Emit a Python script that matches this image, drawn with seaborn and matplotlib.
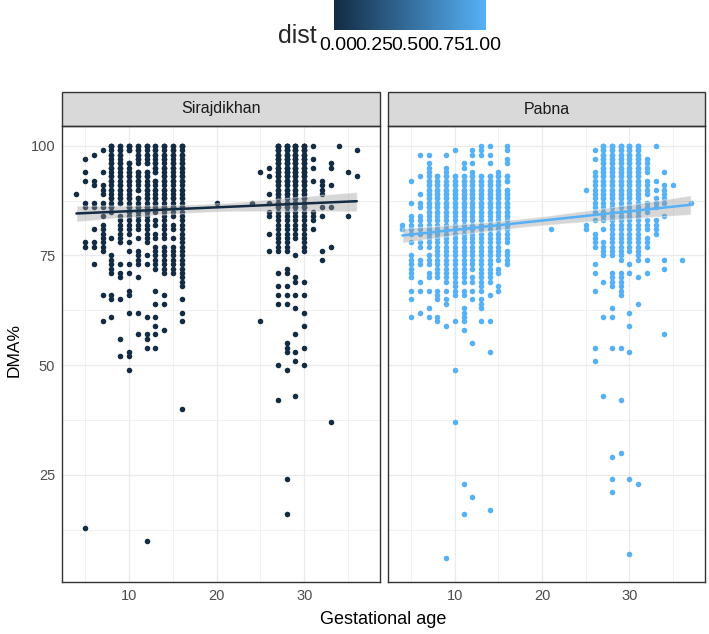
import pandas as pd
import matplotlib
matplotlib.use('Agg')
import matplotlib.pyplot as plt
import seaborn as sns
from matplotlib.colors import LinearSegmentedColormap, Normalize
from matplotlib.cm import ScalarMappable
from matplotlib.patches import Rectangle

# facet titles and the colour scale
sitios = ['Sirajdikhan', 'Pabna']
dist_ticks = [0, 0.25, 0.5, 0.75, 1.0]
dist_labels = ['0.00', '0.25', '0.50', '0.75', '1.00']
x_ticks = [10, 20, 30]
y_ticks = [25, 50, 75, 100]

# Sirajdikhan: gestational age and DMA% values at each age
sir_edad = [4, 5, 6, 7, 8, 9, 10, 11, 12, 13, 14, 15, 16, 20, 24,
            25, 26, 27, 28, 29, 30, 31, 32, 33, 34, 35, 36]
sir_dma = [
    [89],
    [97, 94, 92, 87, 86, 78, 77, 13],
    [98, 92, 91, 87, 86, 81, 78, 77, 73],
    [99, 94, 91, 90, 89, 87, 86, 84, 82, 81, 80, 79, 78, 77, 76, 66, 60],
    [100, 99, 98, 97, 96, 95, 94, 93, 92, 91, 90, 89, 88, 87, 86, 85, 79, 75, 74, 73, 72, 71, 66, 65, 61],
    [100, 99, 98, 97, 96, 95, 94, 93, 92, 91, 90, 89, 88, 87, 84, 83, 82, 81, 80, 79, 78, 73, 71, 70, 65, 56, 52],
    [100, 99, 96, 95, 94, 93, 92, 91, 90, 89, 88, 87, 86, 85, 84, 83, 82, 81, 80, 78, 76, 73, 71, 67, 66, 62, 53, 52, 49],
    [100, 99, 98, 97, 96, 94, 93, 92, 91, 90, 88, 87, 86, 85, 84, 83, 82, 81, 79, 76, 75, 74, 73, 70, 62, 57],
    [100, 99, 98, 97, 96, 94, 93, 92, 91, 90, 89, 88, 87, 86, 85, 84, 83, 82, 81, 80, 79, 78, 75, 73, 61, 57, 56, 54, 10],
    [100, 99, 98, 97, 96, 95, 94, 92, 91, 90, 89, 88, 87, 86, 85, 83, 82, 80, 79, 77, 76, 75, 74, 73, 72, 67, 64, 61, 59, 57, 54],
    [100, 99, 98, 97, 96, 95, 94, 93, 92, 91, 90, 89, 88, 87, 86, 85, 84, 83, 82, 81, 80, 79, 77, 76, 75, 74, 73, 72, 71, 66, 64, 58],
    [100, 99, 98, 97, 96, 95, 94, 93, 92, 91, 90, 89, 88, 87, 86, 85, 84, 82, 81, 79, 77, 76, 75, 74, 73, 72, 71],
    [100, 99, 98, 97, 96, 95, 94, 93, 92, 91, 90, 89, 88, 87, 86, 85, 84, 83, 82, 81, 80, 79, 78, 77, 76, 75, 74, 73, 72, 71, 70, 69, 68, 65, 62, 60, 40],
    [87],
    [87],
    [94, 60],
    [95, 93, 89, 87, 85, 84, 80, 76],
    [100, 99, 98, 97, 96, 95, 94, 93, 92, 91, 90, 89, 88, 87, 86, 85, 84, 83, 82, 81, 80, 79, 78, 77, 76, 71, 68, 66, 64, 50, 42],
    [100, 99, 98, 97, 96, 95, 94, 93, 92, 91, 90, 89, 88, 87, 86, 85, 84, 83, 82, 81, 80, 79, 78, 77, 76, 72, 71, 68, 66, 64, 55, 54, 53, 49, 24, 16],
    [100, 99, 98, 97, 96, 95, 94, 93, 92, 91, 90, 89, 88, 87, 86, 85, 84, 83, 82, 81, 80, 79, 75, 70, 69, 66, 63, 57, 53, 51, 43],
    [100, 99, 98, 97, 96, 95, 94, 93, 92, 91, 90, 89, 88, 87, 86, 85, 84, 83, 82, 81, 80, 79, 78, 77, 76, 69, 66, 62, 59, 54, 50],
    [100, 97, 95, 92, 85, 84, 83, 81],
    [92, 91, 90, 89, 86, 84, 76, 74],
    [96, 95, 91, 86, 77, 37],
    [100],
    [94, 84],
    [99, 93],
]
# repeated values hidden under the solid columns (overplotted points)
sir_rep_edad = [8, 9, 10, 11, 12, 13, 14, 15, 16, 27, 28, 29, 30]
sir_rep_dma = [
    [100, 100, 98, 96, 95, 93, 92, 90, 88, 86],
    [100, 99, 98, 96, 95, 93, 91, 90, 88, 87],
    [100, 100, 99, 96, 94, 93, 92, 90, 88, 86],
    [100, 99, 98, 97, 94, 93, 92, 90, 88, 86],
    [100, 100, 98, 96, 94, 93, 91, 90, 88, 86],
    [100, 99, 98, 96, 95, 94, 92, 90, 88, 87],
    [100, 100, 98, 97, 95, 93, 92, 90, 88, 86],
    [100, 99, 98, 96, 95, 93, 92, 90, 88, 86],
    [100, 100, 98, 96, 95, 93, 92, 90, 88, 86],
    [100, 100, 100, 99, 99, 98, 98, 97, 97, 96, 96, 95, 95, 94, 94, 93, 93, 92, 92, 91, 90, 89, 88, 87, 86],
    [100, 100, 100, 99, 99, 98, 98, 97, 97, 96, 96, 95, 95, 94, 94, 93, 93, 92, 92, 91, 90, 89, 88, 87, 86],
    [100, 100, 100, 99, 99, 98, 98, 97, 97, 96, 96, 95, 95, 94, 94, 93, 93, 92, 92, 91, 90, 89, 88, 87, 86],
    [100, 100, 100, 99, 99, 98, 98, 97, 97, 96, 96, 95, 95, 94, 94, 93, 93, 92, 92, 91, 90, 89, 88, 87, 86],
]

# Pabna: gestational age and DMA% values at each age
pab_edad = [4, 5, 6, 7, 8, 9, 10, 11, 12, 13, 14, 15, 16, 21,
            25, 26, 27, 28, 29, 30, 31, 32, 33, 34, 35, 36, 37]
pab_dma = [
    [82, 81],
    [92, 87, 84, 83, 82, 81, 80, 78, 75, 74, 73, 72, 71, 70, 67, 65, 61],
    [98, 93, 89, 87, 86, 84, 83, 82, 81, 80, 78, 77, 74, 73, 69, 67, 62],
    [98, 96, 95, 94, 92, 91, 90, 89, 88, 87, 86, 85, 84, 83, 82, 81, 80, 79, 78, 77, 75, 74, 73, 71, 70, 67, 63, 61],
    [93, 92, 91, 90, 89, 88, 87, 86, 85, 84, 83, 82, 81, 80, 79, 78, 77, 76, 75, 74, 73, 72, 71, 70, 67, 66, 65, 61, 60],
    [98, 95, 94, 93, 91, 90, 89, 88, 87, 86, 85, 84, 83, 82, 81, 80, 79, 78, 77, 76, 75, 74, 73, 72, 71, 70, 69, 67, 65, 64, 59, 6],
    [99, 93, 92, 91, 90, 89, 88, 87, 86, 85, 84, 83, 82, 81, 80, 79, 78, 77, 76, 75, 74, 73, 72, 71, 70, 69, 68, 67, 66, 60, 49, 37],
    [96, 95, 93, 92, 90, 89, 88, 87, 86, 85, 84, 83, 82, 81, 80, 79, 78, 77, 76, 75, 74, 73, 72, 71, 70, 69, 67, 66, 63, 62, 61, 60, 58, 23, 16],
    [99, 98, 96, 94, 93, 92, 91, 90, 89, 88, 87, 86, 85, 84, 83, 82, 81, 80, 79, 78, 77, 76, 75, 74, 73, 72, 70, 69, 67, 65, 55, 20],
    [100, 99, 98, 93, 92, 91, 90, 89, 88, 87, 86, 85, 84, 83, 82, 81, 80, 79, 78, 77, 76, 75, 74, 73, 72, 71, 70, 69, 68, 67, 65, 64, 63, 60],
    [100, 98, 96, 93, 92, 91, 90, 89, 88, 87, 86, 85, 84, 83, 82, 81, 80, 79, 78, 77, 76, 75, 74, 73, 72, 71, 70, 69, 66, 60, 53, 17],
    [94, 93, 91, 90, 89, 88, 87, 86, 85, 84, 83, 82, 81, 80, 79, 78, 77, 76, 75, 74, 72, 71, 68, 67],
    [100, 99, 97, 96, 93, 92, 90, 89, 88, 87, 86, 85, 84, 83, 82, 81, 80, 79, 78, 76, 75, 74, 73],
    [81],
    [90, 82, 81],
    [99, 97, 94, 93, 92, 91, 90, 89, 88, 87, 86, 85, 83, 80, 79, 78, 77, 73, 71, 67, 54, 51],
    [100, 99, 98, 97, 96, 95, 94, 93, 92, 91, 90, 89, 88, 87, 86, 85, 84, 83, 81, 78, 77, 76, 75, 69, 61, 43],
    [100, 99, 98, 97, 96, 95, 94, 93, 92, 91, 90, 89, 88, 87, 86, 85, 84, 83, 82, 81, 80, 79, 78, 77, 76, 75, 71, 70, 69, 68, 63, 61, 54, 29, 24, 21],
    [100, 99, 98, 97, 96, 95, 94, 93, 92, 91, 90, 89, 88, 87, 86, 85, 84, 83, 82, 81, 80, 79, 78, 77, 76, 75, 74, 71, 70, 69, 68, 67, 66, 54, 42, 30],
    [100, 99, 98, 97, 96, 95, 94, 93, 92, 91, 90, 89, 88, 87, 86, 85, 84, 83, 82, 81, 80, 79, 78, 77, 76, 73, 71, 62, 59, 53, 24, 7],
    [100, 99, 98, 97, 96, 95, 94, 93, 92, 91, 90, 89, 88, 87, 86, 85, 84, 83, 82, 81, 80, 79, 78, 77, 76, 75, 74, 70, 64, 23],
    [97, 96, 95, 94, 92, 91, 90, 89, 87, 86, 85, 83, 82, 81, 79, 78, 77, 74, 71],
    [100, 92, 90, 88, 87, 86, 83, 82, 81, 80],
    [94, 91, 90, 89, 88, 87, 84, 74, 72, 57],
    [91],
    [74],
    [87],
]
pab_rep_edad = [7, 8, 9, 10, 11, 12, 13, 14, 15, 16, 27, 28, 29, 30, 31]
pab_rep_dma = [
    [93, 92, 91, 90, 89, 88, 87, 86, 85],
    [93, 92, 91, 90, 89, 88, 87, 86, 85],
    [93, 92, 91, 90, 89, 88, 87, 86, 85],
    [93, 92, 91, 90, 89, 88, 87, 86, 85],
    [93, 92, 91, 90, 89, 88, 87, 86, 85],
    [93, 92, 91, 90, 89, 88, 87, 86, 85],
    [93, 92, 91, 90, 89, 88, 87, 86, 85],
    [93, 92, 91, 90, 89, 88, 87, 86, 85],
    [93, 92, 91, 90, 89, 88, 87, 86, 85],
    [93, 92, 90, 89, 88, 87, 86, 85, 84],
    [100, 100, 99, 98, 97, 96, 95, 94, 93, 92, 91, 90, 89, 88],
    [100, 100, 99, 98, 97, 96, 95, 94, 93, 92, 91, 90, 89, 88],
    [100, 100, 99, 98, 97, 96, 95, 94, 93, 92, 91, 90, 89, 88],
    [100, 100, 99, 98, 97, 96, 95, 94, 93, 92, 91, 90, 89, 88],
    [100, 100, 99, 98, 97, 96, 95, 94, 93, 92, 91, 90, 89, 88],
]


def armar_tabla(edades, valores):
    filas = []
    for e, vals in zip(edades, valores):
        for v in vals:
            filas.append({'ga': e, 'dma': v})
    return pd.DataFrame(filas)


tablas = [
    pd.concat([armar_tabla(sir_edad, sir_dma), armar_tabla(sir_rep_edad, sir_rep_dma)]),
    pd.concat([armar_tabla(pab_edad, pab_dma), armar_tabla(pab_rep_edad, pab_rep_dma)]),
]

sns.set_style('white')
plt.rcParams['font.family'] = ['Liberation Sans', 'DejaVu Sans']

cmap = LinearSegmentedColormap.from_list('dist', ['#132B43', '#56B1F7'])
colores = [cmap(0.0), cmap(1.0)]

W, H = 709, 634
fig = plt.figure(figsize=(W / 100, H / 100), dpi=100)
ax1 = fig.add_axes([62 / W, 52 / H, 318 / W, 456 / H])
ax2 = fig.add_axes([388 / W, 52 / H, 317 / W, 456 / H])

for i, ax in enumerate([ax1, ax2]):
    df = tablas[i]
    sns.scatterplot(data=df, x='ga', y='dma', color=colores[i], s=16,
                    linewidth=0, ax=ax)
    sns.regplot(data=df, x='ga', y='dma', scatter=False, color=colores[i],
                ci=95, seed=3, ax=ax, line_kws={'lw': 1.8})
    banda = ax.collections[-1]
    banda.set_facecolor('#999999')
    banda.set_alpha(0.4)

    ax.set_xlim(2.35, 38.65)
    ax.set_ylim(0.6, 104.5)
    ax.set_xticks(x_ticks)
    ax.set_xticks([5, 15, 25, 35], minor=True)
    ax.set_yticks(y_ticks)
    ax.set_yticks([12.5, 37.5, 62.5, 87.5], minor=True)
    ax.grid(which='major', color='#EBEBEB', lw=0.9)
    ax.grid(which='minor', color='#EBEBEB', lw=0.5)
    ax.set_axisbelow(True)
    ax.set_xlabel('')
    ax.set_ylabel('')
    ax.tick_params(which='major', direction='out', length=3, width=0.8,
                   color='#333333', labelcolor='#4D4D4D', labelsize=10.5, pad=2)
    ax.tick_params(which='minor', length=0)
    for s in ax.spines.values():
        s.set_color('#333333')
        s.set_linewidth(1)

    # strip del facet
    alto = 34 / 456
    ax.add_patch(Rectangle((0, 1), 1, alto, transform=ax.transAxes,
                           facecolor='#D9D9D9', edgecolor='#333333', lw=1,
                           clip_on=False))
    ax.text(0.5, 1 + alto / 2, sitios[i], transform=ax.transAxes,
            ha='center', va='center', fontsize=11.5, color='#1A1A1A')

ax2.tick_params(axis='y', which='both', length=0, labelleft=False)

fig.text(14 / W, 1 - 350 / H, 'DMA%', rotation=90, ha='center', va='center',
         fontsize=12.5, color='black')
fig.text(383 / W, 1 - 620 / H, 'Gestational age', ha='center', va='center',
         fontsize=13, color='black')

# barra de color arriba
cax = fig.add_axes([334 / W, 1 - 30 / H, 152 / W, 40 / H])
norma = Normalize(vmin=-0.028, vmax=1.023)
cb = fig.colorbar(ScalarMappable(norm=norma, cmap=cmap), cax=cax,
                  orientation='horizontal', ticks=dist_ticks)
cb.outline.set_visible(False)
cb.set_ticklabels(dist_labels)
cax.tick_params(direction='in', length=5, width=1, color='white',
                top=True, bottom=True, labelsize=14, pad=5, labelcolor='black')
fig.text(278 / W, 1 - 36 / H, 'dist', ha='left', va='center', fontsize=18)

fig.savefig('out.png', dpi=100)
